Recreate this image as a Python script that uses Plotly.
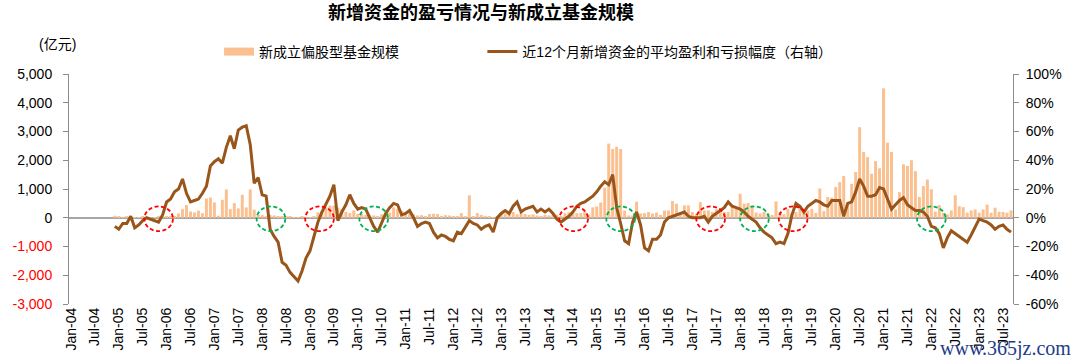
import pandas as pd
import plotly.graph_objects as go

# ---------------- data ----------------
start_month = "2004-01"
# 新成立偏股型基金规模 (亿元), monthly Jan-04 .. Sep-23
bar_values = [
    0, 0, 0, 0, 0, 0, 0, 0, 0, 0, 0, 70,                               # 2004
    60, 20, 30, 20, 10, 20, 30, 20, 10, 20, 30, 40,                    # 2005
    30, 50, 60, 150, 300, 440, 220, 185, 245, 160, 670, 705,           # 2006
    530, 70, 625, 985, 300, 510, 325, 800, 360, 985, 280, 100,         # 2007
    90, 60, 100, 80, 60, 50, 30, 60, 20, 10, 30, 10,                   # 2008
    20, 30, 190, 240, 360, 420, 420, 350, 300, 200, 160, 255,          # 2009
    130, 140, 100, 90, 80, 60, 120, 150, 180, 360, 310, 240,           # 2010
    150, 160, 120, 80, 90, 40, 130, 140, 130, 30, 90, 80,              # 2011
    60, 30, 160, 50, 780, 60, 160, 100, 70, 30, 20, 40,                # 2012
    150, 150, 160, 200, 120, 150, 130, 100, 120, 80, 60, 100,          # 2013
    80, 100, 100, 60, 160, 190, 150, 160, 160, 220, 120, 360,          # 2014
    390, 530, 1050, 2580, 2390, 2470, 2390, 250, 80, 80, 560, 150,     # 2015
    160, 200, 150, 180, 100, 250, 250, 580, 490, 140, 430, 430,        # 2016
    200, 140, 545, 255, 255, 200, 300, 260, 200, 200, 430, 310,        # 2017
    835, 490, 510, 430, 180, 150, 200, 150, 100, 570, 200, 120,        # 2018
    310, 150, 200, 310, 250, 250, 310, 170, 1020, 230, 720, 700,       # 2019
    1070, 1240, 1450, 460, 1180, 1590, 3150, 2290, 2110, 1530, 1970, 1720,  # 2020
    4500, 2610, 2290, 290, 890, 1860, 1800, 2000, 1620, 720, 1100, 1330,    # 2021
    990, 210, 440, 170, 120, 255, 780, 400, 370, 175, 255, 290,        # 2022
    175, 290, 460, 175, 350, 210, 200, 175, 255,                       # 2023
]

# 近12个月新增资金的平均盈利和亏损幅度 (%), monthly Dec-04 .. Sep-23
line_start = "2004-12"
line_values = [
    -6,                                                   # 2004-12
    -8, -4, -4, 1, -7, -5, -2, 0, -1, -2, -3, 2,          # 2005
    11, 13, 18, 20, 27, 17, 11, 12, 13, 17, 22, 36,       # 2006
    39, 41, 38, 49, 57, 48, 61, 63, 64, 51, 24, 28,       # 2007
    16, 15, -8, -13, -17, -31, -33, -38, -41, -44, -37, -28,  # 2008
    -23, -13, -3, 4, 10, 15, 23, -2, 4, 9, 16, 10,        # 2009
    6, 7, 6, 0, -6, -10, -3, 3, 7, 10, 9, 2,              # 2010
    3, 5, 0, -6, -4, -3, -4, -10, -14, -12, -13, -15,     # 2011
    -16, -10, -11, -6, -2, -4, -5, -8, -6, -5, -10, 0,    # 2012
    3, 5, 3, 8, 11, 4, 6, 7, 8, 4, 6, 4,                  # 2013
    6, 3, -1, -3, -1, 1, 4, 8, 10, 11, 13, 15,            # 2014
    18, 22, 25, 23, 30, 7, -4, -16, -18, -3, 4, -5,       # 2015
    -21, -23, -15, -15, -12, -3, 0, 1, 2, 3, 4, 1,        # 2016
    0, 0, 0, 1, -3, 1, 3, 5, 7, 11, 8, 7,                 # 2017
    6, 4, 1, -1, -3, -7, -10, -12, -14, -18, -17, -18,    # 2018
    -11, 2, 10, 8, 4, 8, 10, 12, 11, 9, 8, 12,            # 2019
    12, 12, 1, 10, 11, 18, 27, 22, 15, 15, 16, 21,        # 2020
    20, 13, 6, 9, 12, 14, 9, 7, 5, 5, 4, 1,               # 2021
    -6, -7, -11, -21, -14, -9, -11, -13, -15, -17, -12, -7,  # 2022
    -1, -2, -3, -5, -8, -6, -5, -8, -10,                  # 2023
]

bar_name = "新成立偏股型基金规模"
line_name = "近12个月新增资金的平均盈利和亏损幅度（右轴）"
title_text = "新增资金的盈亏情况与新成立基金规模"
left_unit = "(亿元)"
watermark = "www.365jz.com"

left_ticks = [-3000, -2000, -1000, 0, 1000, 2000, 3000, 4000, 5000]
right_ticks = [-60, -40, -20, 0, 20, 40, 60, 80, 100]

# dashed circles marking turning points (category positions)
red_circle_pos = [22.0, 62.4, 126.2, 160.6, 181.3]
green_circle_pos = [50.2, 76.0, 138.0, 171.6, 216.0]

# ---------------- build ----------------
months = pd.date_range(start_month, periods=len(bar_values), freq="MS")
categories = [d.strftime("%b-%y") for d in months]
line_offset = categories.index(pd.Timestamp(line_start).strftime("%b-%y"))
line_x = categories[line_offset:line_offset + len(line_values)]
tick_labels = categories[::6]

left_text = [
    f'<span style="color:#FF0000">{v:,}</span>' if v < 0 else f"{v:,}"
    for v in left_ticks
]
right_text = [f"{v}%" for v in right_ticks]

FONT = "Liberation Sans, Arial, Noto Sans CJK SC, sans-serif"
BAR_COLOR = "#FAC090"
LINE_COLOR = "#9A561A"
AXIS_COLOR = "#8C8C8C"

fig = go.Figure()
fig.add_trace(go.Bar(
    x=categories, y=bar_values, name=bar_name,
    marker=dict(color=BAR_COLOR, line=dict(width=0)),
    yaxis="y", showlegend=False, legendgroup="bars",
))
# legend key for the bars, drawn as a wide flat swatch like the original
fig.add_trace(go.Scatter(
    x=[None], y=[None], name=bar_name, mode="lines",
    line=dict(color=BAR_COLOR, width=8),
    legend="legend", legendgroup="bars", hoverinfo="skip",
))
fig.add_trace(go.Scatter(
    x=line_x, y=line_values, name=line_name, mode="lines",
    line=dict(color=LINE_COLOR, width=3),
    legend="legend2", yaxis="y2",
))

shapes = []
for pos, col in [(p, "#FF0000") for p in red_circle_pos] + [(p, "#00B050") for p in green_circle_pos]:
    shapes.append(dict(
        type="circle", xref="x", yref="y",
        x0=pos - 3.6, x1=pos + 3.6, y0=-465, y1=395,
        line=dict(color=col, width=1.8, dash="4px,2.5px"), layer="above",
    ))

fig.update_layout(
    width=1080, height=364, autosize=False,
    margin=dict(l=63, r=67, t=74, b=60),
    paper_bgcolor="white", plot_bgcolor="white",
    font=dict(family=FONT, size=14, color="#000000"),
    bargap=0.25,
    title=dict(
        text=f"<b>{title_text}</b>", x=481 / 1080, xanchor="center",
        y=1 - 13 / 364, yanchor="middle", xref="container", yref="container",
        font=dict(family=FONT, size=18, color="#000000"),
    ),
    xaxis=dict(
        type="category", range=[-0.5, len(categories) - 0.5],
        tickmode="array", tickvals=tick_labels, ticktext=tick_labels,
        tickangle=-90, showline=False, ticks="", showgrid=False, zeroline=False,
        tickfont=dict(size=14, color="#000000"),
    ),
    yaxis=dict(
        range=[-3000, 5000], tickmode="array", tickvals=left_ticks, ticktext=left_text,
        showline=True, linecolor=AXIS_COLOR, linewidth=1,
        ticks="outside", ticklen=5, tickcolor=AXIS_COLOR,
        showgrid=False, zeroline=True, zerolinecolor="#A6A6A6", zerolinewidth=1.5,
        ticklabelstandoff=8, tickfont=dict(size=14, color="#000000"),
    ),
    yaxis2=dict(
        range=[-60, 100], overlaying="y", side="right",
        tickmode="array", tickvals=right_ticks, ticktext=right_text,
        showline=True, linecolor=AXIS_COLOR, linewidth=1,
        ticks="outside", ticklen=5, tickcolor=AXIS_COLOR,
        showgrid=False, zeroline=False,
        ticklabelstandoff=4, tickfont=dict(size=14, color="#000000"),
    ),
    legend=dict(
        orientation="h", x=(214 - 63) / 950, xanchor="left",
        y=(304 - 52) / 230, yanchor="middle", bgcolor="rgba(0,0,0,0)",
        font=dict(size=14, color="#000000"),
    ),
    legend2=dict(
        orientation="h", x=(479 - 63) / 950, xanchor="left",
        y=(304 - 52) / 230, yanchor="middle", bgcolor="rgba(0,0,0,0)",
        font=dict(size=14, color="#000000"),
    ),
    shapes=shapes,
    annotations=[
        dict(text=left_unit, xref="paper", yref="paper",
             x=(51.5 - 63) / 950, y=(304 - 44) / 230, xanchor="center", yanchor="middle",
             showarrow=False, font=dict(size=14, color="#000000")),
        dict(text=watermark, xref="paper", yref="paper",
             x=(1073 - 63) / 950, y=(304 - 348) / 230, xanchor="right", yanchor="middle",
             showarrow=False,
             font=dict(family="Liberation Serif, DejaVu Serif, serif", size=20, color="#1F3C88")),
    ],
    showlegend=True,
)

fig.write_html("out.html", post_script="document.body.style.margin='0';",
               config={"displayModeBar": False})
